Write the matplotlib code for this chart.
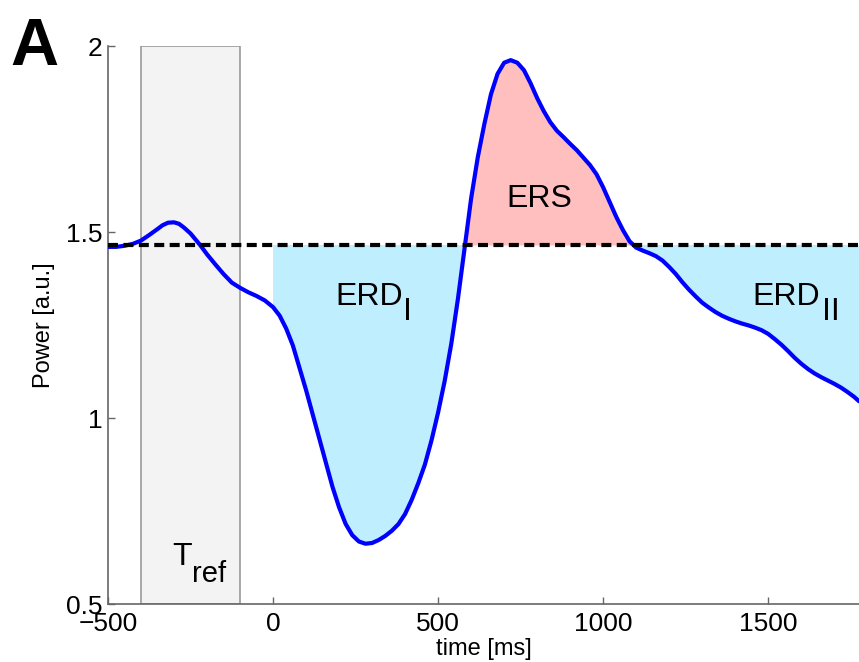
import matplotlib
matplotlib.use('Agg')
import numpy as np
import matplotlib.pyplot as plt
from matplotlib.patches import Rectangle

plt.rcParams['font.family'] = ['Liberation Sans', 'DejaVu Sans']

# power curve (time in ms, power in a.u.)
time_ms = [-500, -475, -450, -425, -400, -375, -350, -335, -318, -300, -285,
           -270, -250, -235, -221, -200, -175, -150, -125, -100, -75, -50, -25,
           0, 20, 40, 60, 80, 100, 120, 140, 160, 180, 200, 220, 240, 260, 280,
           300, 320, 340, 360, 380, 400, 420, 440, 460, 480, 500, 520, 540, 560,
           580, 600, 620, 640, 660, 680, 700, 720, 740, 760, 780, 800, 820, 840,
           860, 880, 900, 920, 940, 960, 980, 1000, 1020, 1040, 1060, 1080,
           1100, 1120, 1140, 1160, 1180, 1200, 1220, 1240, 1260, 1280, 1300,
           1320, 1340, 1360, 1380, 1400, 1420, 1440, 1460, 1480, 1500, 1520,
           1540, 1560, 1580, 1600, 1620, 1640, 1660, 1680, 1700, 1720, 1740,
           1760, 1775]
power = [1.460, 1.460, 1.463, 1.468, 1.477, 1.492, 1.508, 1.518, 1.525, 1.526,
         1.522, 1.512, 1.496, 1.480, 1.465, 1.440, 1.413, 1.387, 1.364, 1.350,
         1.338, 1.328, 1.316,
         1.298, 1.275, 1.240, 1.195, 1.135, 1.075, 1.010, 0.945, 0.880, 0.815,
         0.760, 0.715, 0.685, 0.668, 0.662, 0.664, 0.672, 0.683, 0.697, 0.715,
         0.742, 0.780, 0.825, 0.875, 0.940, 1.015, 1.100, 1.200, 1.320, 1.455,
         1.590, 1.700, 1.790, 1.870, 1.925, 1.955, 1.962, 1.955, 1.935, 1.900,
         1.860, 1.825, 1.795, 1.772, 1.755, 1.737, 1.720, 1.700, 1.680, 1.655,
         1.620, 1.580, 1.540, 1.505, 1.475, 1.458, 1.450, 1.443, 1.435, 1.423,
         1.406, 1.387, 1.365, 1.345, 1.327, 1.310, 1.297, 1.285, 1.275, 1.267,
         1.260, 1.254, 1.249, 1.243, 1.236, 1.226, 1.212, 1.197, 1.180, 1.162,
         1.146, 1.132, 1.120, 1.110, 1.101, 1.092, 1.082, 1.070, 1.057, 1.045]
baseline = 1.465
t_ref = (-400, -100)

t = np.array(time_ms)
p = np.array(power)

fig = plt.figure(figsize=(8.59, 6.62), dpi=100)
ax = fig.add_axes([108 / 859, 1 - 604 / 662, 1 - 108 / 859, (604 - 46) / 662])

ax.add_patch(Rectangle((t_ref[0], 0.5), t_ref[1] - t_ref[0], 1.5,
                       facecolor='#f3f3f3', edgecolor='#999999', lw=1.2, zorder=1))

post = t >= 0
tp, pp = t[post], p[post]
ax.fill_between(tp, pp, baseline, where=pp <= baseline,
                interpolate=True, color='#bfeeff', lw=0, zorder=2)
ax.fill_between(tp, pp, baseline, where=(tp >= 400) & (pp >= baseline),
                interpolate=True, color='#ffbfbf', lw=0, zorder=2)

ax.plot(t, p, color='#0000ff', lw=3, zorder=3,
        solid_capstyle='round', solid_joinstyle='round')
ax.axhline(baseline, color='black', lw=3, linestyle=(0, (2.4, 1.3)), zorder=4)

ax.text(188, 1.304, 'ERD', fontsize=23, ha='left', va='baseline')
ax.text(393, 1.263, 'I', fontsize=23, ha='left', va='baseline')
ax.text(808, 1.567, 'ERS', fontsize=23, ha='center', va='baseline')
ax.text(1452, 1.304, 'ERD', fontsize=23, ha='left', va='baseline')
ax.text(1664, 1.263, 'II', fontsize=23, ha='left', va='baseline')
ax.text(-305, 0.605, 'T', fontsize=23, ha='left', va='baseline')
ax.text(-245, 0.559, 'ref', fontsize=21, ha='left', va='baseline')

ax.set_xlim(-500, 1775)
ax.set_ylim(0.5, 2)
ax.set_xticks([-500, 0, 500, 1000, 1500])
ax.set_xticklabels(['\u2212500', '0', '500', '1000', '1500'])
ax.set_yticks([0.5, 1, 1.5, 2])
ax.set_yticklabels(['0.5', '1', '1.5', '2'])
ax.tick_params(direction='in', length=5, width=1, color='#666666',
               labelsize=19, pad=4)
ax.tick_params(axis='x', pad=6)
for side in ['top', 'right']:
    ax.spines[side].set_visible(False)
for side in ['left', 'bottom']:
    ax.spines[side].set_color('#666666')
    ax.spines[side].set_linewidth(1.2)

ax.set_xlabel('time [ms]', fontsize=17, labelpad=1)
ax.set_ylabel('Power [a.u.]', fontsize=17, labelpad=8)

fig.text(10 / 859, 1 - 65 / 662, 'A', fontsize=48, fontweight='bold',
         ha='left', va='baseline')

fig.savefig('out.png', dpi=100)
